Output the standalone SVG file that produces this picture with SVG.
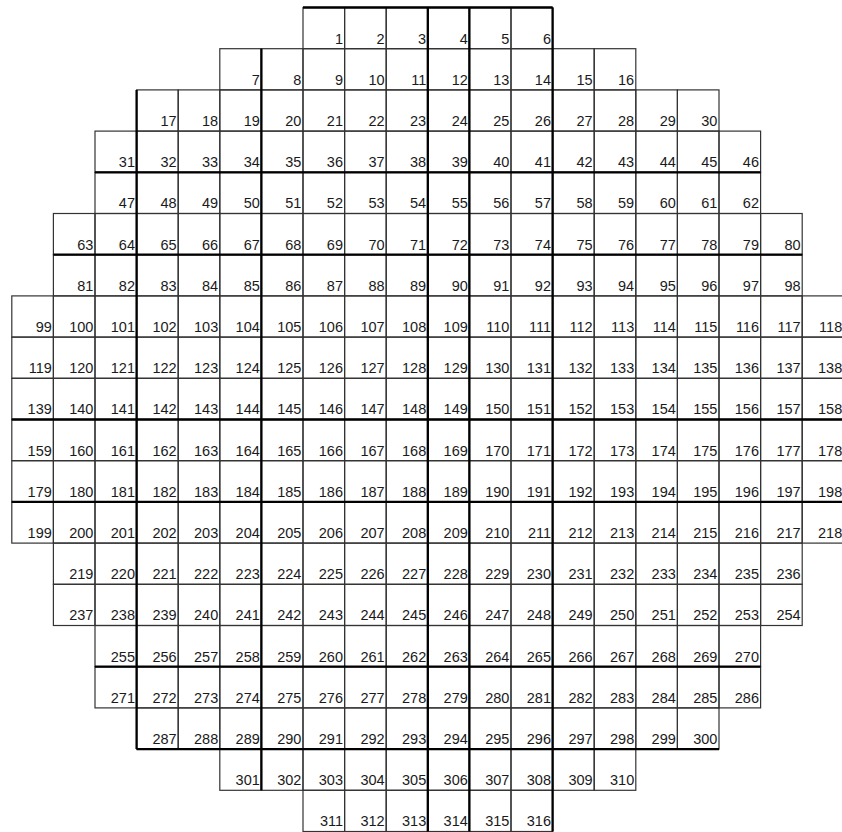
<svg xmlns="http://www.w3.org/2000/svg" width="842" height="832" viewBox="0 0 842 832">
<style>
rect{fill:none;stroke:#333;stroke-width:1.2}
text{font-family:"Liberation Sans",Arial,Helvetica,sans-serif;font-size:14.5px;fill:#1a1a1a;text-anchor:end}
.thick{stroke:#000;stroke-width:2.3;fill:none}
</style>
<rect x="0" y="0" width="842" height="832" style="fill:#fff;stroke:none"/>
<g id="cells">
<g id="n1" transform="translate(303,7.5)"><rect width="41.6" height="41.2"/><text x="40" y="36">1</text></g>
<g id="n2" transform="translate(344.6,7.5)"><rect width="41.6" height="41.2"/><text x="40" y="36">2</text></g>
<g id="n3" transform="translate(386.2,7.5)"><rect width="41.6" height="41.2"/><text x="40" y="36">3</text></g>
<g id="n4" transform="translate(427.8,7.5)"><rect width="41.6" height="41.2"/><text x="40" y="36">4</text></g>
<g id="n5" transform="translate(469.4,7.5)"><rect width="41.6" height="41.2"/><text x="40" y="36">5</text></g>
<g id="n6" transform="translate(511,7.5)"><rect width="41.6" height="41.2"/><text x="40" y="36">6</text></g>
<g id="n7" transform="translate(219.8,48.7)"><rect width="41.6" height="41.2"/><text x="40" y="36">7</text></g>
<g id="n8" transform="translate(261.4,48.7)"><rect width="41.6" height="41.2"/><text x="40" y="36">8</text></g>
<g id="n9" transform="translate(303,48.7)"><rect width="41.6" height="41.2"/><text x="40" y="36">9</text></g>
<g id="n10" transform="translate(344.6,48.7)"><rect width="41.6" height="41.2"/><text x="40" y="36">10</text></g>
<g id="n11" transform="translate(386.2,48.7)"><rect width="41.6" height="41.2"/><text x="40" y="36">11</text></g>
<g id="n12" transform="translate(427.8,48.7)"><rect width="41.6" height="41.2"/><text x="40" y="36">12</text></g>
<g id="n13" transform="translate(469.4,48.7)"><rect width="41.6" height="41.2"/><text x="40" y="36">13</text></g>
<g id="n14" transform="translate(511,48.7)"><rect width="41.6" height="41.2"/><text x="40" y="36">14</text></g>
<g id="n15" transform="translate(552.6,48.7)"><rect width="41.6" height="41.2"/><text x="40" y="36">15</text></g>
<g id="n16" transform="translate(594.2,48.7)"><rect width="41.6" height="41.2"/><text x="40" y="36">16</text></g>
<g id="n17" transform="translate(136.6,89.9)"><rect width="41.6" height="41.2"/><text x="40" y="36">17</text></g>
<g id="n18" transform="translate(178.2,89.9)"><rect width="41.6" height="41.2"/><text x="40" y="36">18</text></g>
<g id="n19" transform="translate(219.8,89.9)"><rect width="41.6" height="41.2"/><text x="40" y="36">19</text></g>
<g id="n20" transform="translate(261.4,89.9)"><rect width="41.6" height="41.2"/><text x="40" y="36">20</text></g>
<g id="n21" transform="translate(303,89.9)"><rect width="41.6" height="41.2"/><text x="40" y="36">21</text></g>
<g id="n22" transform="translate(344.6,89.9)"><rect width="41.6" height="41.2"/><text x="40" y="36">22</text></g>
<g id="n23" transform="translate(386.2,89.9)"><rect width="41.6" height="41.2"/><text x="40" y="36">23</text></g>
<g id="n24" transform="translate(427.8,89.9)"><rect width="41.6" height="41.2"/><text x="40" y="36">24</text></g>
<g id="n25" transform="translate(469.4,89.9)"><rect width="41.6" height="41.2"/><text x="40" y="36">25</text></g>
<g id="n26" transform="translate(511,89.9)"><rect width="41.6" height="41.2"/><text x="40" y="36">26</text></g>
<g id="n27" transform="translate(552.6,89.9)"><rect width="41.6" height="41.2"/><text x="40" y="36">27</text></g>
<g id="n28" transform="translate(594.2,89.9)"><rect width="41.6" height="41.2"/><text x="40" y="36">28</text></g>
<g id="n29" transform="translate(635.8,89.9)"><rect width="41.6" height="41.2"/><text x="40" y="36">29</text></g>
<g id="n30" transform="translate(677.4,89.9)"><rect width="41.6" height="41.2"/><text x="40" y="36">30</text></g>
<g id="n31" transform="translate(95,131.1)"><rect width="41.6" height="41.2"/><text x="40" y="36">31</text></g>
<g id="n32" transform="translate(136.6,131.1)"><rect width="41.6" height="41.2"/><text x="40" y="36">32</text></g>
<g id="n33" transform="translate(178.2,131.1)"><rect width="41.6" height="41.2"/><text x="40" y="36">33</text></g>
<g id="n34" transform="translate(219.8,131.1)"><rect width="41.6" height="41.2"/><text x="40" y="36">34</text></g>
<g id="n35" transform="translate(261.4,131.1)"><rect width="41.6" height="41.2"/><text x="40" y="36">35</text></g>
<g id="n36" transform="translate(303,131.1)"><rect width="41.6" height="41.2"/><text x="40" y="36">36</text></g>
<g id="n37" transform="translate(344.6,131.1)"><rect width="41.6" height="41.2"/><text x="40" y="36">37</text></g>
<g id="n38" transform="translate(386.2,131.1)"><rect width="41.6" height="41.2"/><text x="40" y="36">38</text></g>
<g id="n39" transform="translate(427.8,131.1)"><rect width="41.6" height="41.2"/><text x="40" y="36">39</text></g>
<g id="n40" transform="translate(469.4,131.1)"><rect width="41.6" height="41.2"/><text x="40" y="36">40</text></g>
<g id="n41" transform="translate(511,131.1)"><rect width="41.6" height="41.2"/><text x="40" y="36">41</text></g>
<g id="n42" transform="translate(552.6,131.1)"><rect width="41.6" height="41.2"/><text x="40" y="36">42</text></g>
<g id="n43" transform="translate(594.2,131.1)"><rect width="41.6" height="41.2"/><text x="40" y="36">43</text></g>
<g id="n44" transform="translate(635.8,131.1)"><rect width="41.6" height="41.2"/><text x="40" y="36">44</text></g>
<g id="n45" transform="translate(677.4,131.1)"><rect width="41.6" height="41.2"/><text x="40" y="36">45</text></g>
<g id="n46" transform="translate(719,131.1)"><rect width="41.6" height="41.2"/><text x="40" y="36">46</text></g>
<g id="n47" transform="translate(95,172.3)"><rect width="41.6" height="41.2"/><text x="40" y="36">47</text></g>
<g id="n48" transform="translate(136.6,172.3)"><rect width="41.6" height="41.2"/><text x="40" y="36">48</text></g>
<g id="n49" transform="translate(178.2,172.3)"><rect width="41.6" height="41.2"/><text x="40" y="36">49</text></g>
<g id="n50" transform="translate(219.8,172.3)"><rect width="41.6" height="41.2"/><text x="40" y="36">50</text></g>
<g id="n51" transform="translate(261.4,172.3)"><rect width="41.6" height="41.2"/><text x="40" y="36">51</text></g>
<g id="n52" transform="translate(303,172.3)"><rect width="41.6" height="41.2"/><text x="40" y="36">52</text></g>
<g id="n53" transform="translate(344.6,172.3)"><rect width="41.6" height="41.2"/><text x="40" y="36">53</text></g>
<g id="n54" transform="translate(386.2,172.3)"><rect width="41.6" height="41.2"/><text x="40" y="36">54</text></g>
<g id="n55" transform="translate(427.8,172.3)"><rect width="41.6" height="41.2"/><text x="40" y="36">55</text></g>
<g id="n56" transform="translate(469.4,172.3)"><rect width="41.6" height="41.2"/><text x="40" y="36">56</text></g>
<g id="n57" transform="translate(511,172.3)"><rect width="41.6" height="41.2"/><text x="40" y="36">57</text></g>
<g id="n58" transform="translate(552.6,172.3)"><rect width="41.6" height="41.2"/><text x="40" y="36">58</text></g>
<g id="n59" transform="translate(594.2,172.3)"><rect width="41.6" height="41.2"/><text x="40" y="36">59</text></g>
<g id="n60" transform="translate(635.8,172.3)"><rect width="41.6" height="41.2"/><text x="40" y="36">60</text></g>
<g id="n61" transform="translate(677.4,172.3)"><rect width="41.6" height="41.2"/><text x="40" y="36">61</text></g>
<g id="n62" transform="translate(719,172.3)"><rect width="41.6" height="41.2"/><text x="40" y="36">62</text></g>
<g id="n63" transform="translate(53.4,213.5)"><rect width="41.6" height="41.2"/><text x="40" y="36">63</text></g>
<g id="n64" transform="translate(95,213.5)"><rect width="41.6" height="41.2"/><text x="40" y="36">64</text></g>
<g id="n65" transform="translate(136.6,213.5)"><rect width="41.6" height="41.2"/><text x="40" y="36">65</text></g>
<g id="n66" transform="translate(178.2,213.5)"><rect width="41.6" height="41.2"/><text x="40" y="36">66</text></g>
<g id="n67" transform="translate(219.8,213.5)"><rect width="41.6" height="41.2"/><text x="40" y="36">67</text></g>
<g id="n68" transform="translate(261.4,213.5)"><rect width="41.6" height="41.2"/><text x="40" y="36">68</text></g>
<g id="n69" transform="translate(303,213.5)"><rect width="41.6" height="41.2"/><text x="40" y="36">69</text></g>
<g id="n70" transform="translate(344.6,213.5)"><rect width="41.6" height="41.2"/><text x="40" y="36">70</text></g>
<g id="n71" transform="translate(386.2,213.5)"><rect width="41.6" height="41.2"/><text x="40" y="36">71</text></g>
<g id="n72" transform="translate(427.8,213.5)"><rect width="41.6" height="41.2"/><text x="40" y="36">72</text></g>
<g id="n73" transform="translate(469.4,213.5)"><rect width="41.6" height="41.2"/><text x="40" y="36">73</text></g>
<g id="n74" transform="translate(511,213.5)"><rect width="41.6" height="41.2"/><text x="40" y="36">74</text></g>
<g id="n75" transform="translate(552.6,213.5)"><rect width="41.6" height="41.2"/><text x="40" y="36">75</text></g>
<g id="n76" transform="translate(594.2,213.5)"><rect width="41.6" height="41.2"/><text x="40" y="36">76</text></g>
<g id="n77" transform="translate(635.8,213.5)"><rect width="41.6" height="41.2"/><text x="40" y="36">77</text></g>
<g id="n78" transform="translate(677.4,213.5)"><rect width="41.6" height="41.2"/><text x="40" y="36">78</text></g>
<g id="n79" transform="translate(719,213.5)"><rect width="41.6" height="41.2"/><text x="40" y="36">79</text></g>
<g id="n80" transform="translate(760.6,213.5)"><rect width="41.6" height="41.2"/><text x="40" y="36">80</text></g>
<g id="n81" transform="translate(53.4,254.7)"><rect width="41.6" height="41.2"/><text x="40" y="36">81</text></g>
<g id="n82" transform="translate(95,254.7)"><rect width="41.6" height="41.2"/><text x="40" y="36">82</text></g>
<g id="n83" transform="translate(136.6,254.7)"><rect width="41.6" height="41.2"/><text x="40" y="36">83</text></g>
<g id="n84" transform="translate(178.2,254.7)"><rect width="41.6" height="41.2"/><text x="40" y="36">84</text></g>
<g id="n85" transform="translate(219.8,254.7)"><rect width="41.6" height="41.2"/><text x="40" y="36">85</text></g>
<g id="n86" transform="translate(261.4,254.7)"><rect width="41.6" height="41.2"/><text x="40" y="36">86</text></g>
<g id="n87" transform="translate(303,254.7)"><rect width="41.6" height="41.2"/><text x="40" y="36">87</text></g>
<g id="n88" transform="translate(344.6,254.7)"><rect width="41.6" height="41.2"/><text x="40" y="36">88</text></g>
<g id="n89" transform="translate(386.2,254.7)"><rect width="41.6" height="41.2"/><text x="40" y="36">89</text></g>
<g id="n90" transform="translate(427.8,254.7)"><rect width="41.6" height="41.2"/><text x="40" y="36">90</text></g>
<g id="n91" transform="translate(469.4,254.7)"><rect width="41.6" height="41.2"/><text x="40" y="36">91</text></g>
<g id="n92" transform="translate(511,254.7)"><rect width="41.6" height="41.2"/><text x="40" y="36">92</text></g>
<g id="n93" transform="translate(552.6,254.7)"><rect width="41.6" height="41.2"/><text x="40" y="36">93</text></g>
<g id="n94" transform="translate(594.2,254.7)"><rect width="41.6" height="41.2"/><text x="40" y="36">94</text></g>
<g id="n95" transform="translate(635.8,254.7)"><rect width="41.6" height="41.2"/><text x="40" y="36">95</text></g>
<g id="n96" transform="translate(677.4,254.7)"><rect width="41.6" height="41.2"/><text x="40" y="36">96</text></g>
<g id="n97" transform="translate(719,254.7)"><rect width="41.6" height="41.2"/><text x="40" y="36">97</text></g>
<g id="n98" transform="translate(760.6,254.7)"><rect width="41.6" height="41.2"/><text x="40" y="36">98</text></g>
<g id="n99" transform="translate(11.8,295.9)"><rect width="41.6" height="41.2"/><text x="40" y="36">99</text></g>
<g id="n100" transform="translate(53.4,295.9)"><rect width="41.6" height="41.2"/><text x="40" y="36">100</text></g>
<g id="n101" transform="translate(95,295.9)"><rect width="41.6" height="41.2"/><text x="40" y="36">101</text></g>
<g id="n102" transform="translate(136.6,295.9)"><rect width="41.6" height="41.2"/><text x="40" y="36">102</text></g>
<g id="n103" transform="translate(178.2,295.9)"><rect width="41.6" height="41.2"/><text x="40" y="36">103</text></g>
<g id="n104" transform="translate(219.8,295.9)"><rect width="41.6" height="41.2"/><text x="40" y="36">104</text></g>
<g id="n105" transform="translate(261.4,295.9)"><rect width="41.6" height="41.2"/><text x="40" y="36">105</text></g>
<g id="n106" transform="translate(303,295.9)"><rect width="41.6" height="41.2"/><text x="40" y="36">106</text></g>
<g id="n107" transform="translate(344.6,295.9)"><rect width="41.6" height="41.2"/><text x="40" y="36">107</text></g>
<g id="n108" transform="translate(386.2,295.9)"><rect width="41.6" height="41.2"/><text x="40" y="36">108</text></g>
<g id="n109" transform="translate(427.8,295.9)"><rect width="41.6" height="41.2"/><text x="40" y="36">109</text></g>
<g id="n110" transform="translate(469.4,295.9)"><rect width="41.6" height="41.2"/><text x="40" y="36">110</text></g>
<g id="n111" transform="translate(511,295.9)"><rect width="41.6" height="41.2"/><text x="40" y="36">111</text></g>
<g id="n112" transform="translate(552.6,295.9)"><rect width="41.6" height="41.2"/><text x="40" y="36">112</text></g>
<g id="n113" transform="translate(594.2,295.9)"><rect width="41.6" height="41.2"/><text x="40" y="36">113</text></g>
<g id="n114" transform="translate(635.8,295.9)"><rect width="41.6" height="41.2"/><text x="40" y="36">114</text></g>
<g id="n115" transform="translate(677.4,295.9)"><rect width="41.6" height="41.2"/><text x="40" y="36">115</text></g>
<g id="n116" transform="translate(719,295.9)"><rect width="41.6" height="41.2"/><text x="40" y="36">116</text></g>
<g id="n117" transform="translate(760.6,295.9)"><rect width="41.6" height="41.2"/><text x="40" y="36">117</text></g>
<g id="n118" transform="translate(802.2,295.9)"><rect width="41.6" height="41.2"/><text x="40" y="36">118</text></g>
<g id="n119" transform="translate(11.8,337.1)"><rect width="41.6" height="41.2"/><text x="40" y="36">119</text></g>
<g id="n120" transform="translate(53.4,337.1)"><rect width="41.6" height="41.2"/><text x="40" y="36">120</text></g>
<g id="n121" transform="translate(95,337.1)"><rect width="41.6" height="41.2"/><text x="40" y="36">121</text></g>
<g id="n122" transform="translate(136.6,337.1)"><rect width="41.6" height="41.2"/><text x="40" y="36">122</text></g>
<g id="n123" transform="translate(178.2,337.1)"><rect width="41.6" height="41.2"/><text x="40" y="36">123</text></g>
<g id="n124" transform="translate(219.8,337.1)"><rect width="41.6" height="41.2"/><text x="40" y="36">124</text></g>
<g id="n125" transform="translate(261.4,337.1)"><rect width="41.6" height="41.2"/><text x="40" y="36">125</text></g>
<g id="n126" transform="translate(303,337.1)"><rect width="41.6" height="41.2"/><text x="40" y="36">126</text></g>
<g id="n127" transform="translate(344.6,337.1)"><rect width="41.6" height="41.2"/><text x="40" y="36">127</text></g>
<g id="n128" transform="translate(386.2,337.1)"><rect width="41.6" height="41.2"/><text x="40" y="36">128</text></g>
<g id="n129" transform="translate(427.8,337.1)"><rect width="41.6" height="41.2"/><text x="40" y="36">129</text></g>
<g id="n130" transform="translate(469.4,337.1)"><rect width="41.6" height="41.2"/><text x="40" y="36">130</text></g>
<g id="n131" transform="translate(511,337.1)"><rect width="41.6" height="41.2"/><text x="40" y="36">131</text></g>
<g id="n132" transform="translate(552.6,337.1)"><rect width="41.6" height="41.2"/><text x="40" y="36">132</text></g>
<g id="n133" transform="translate(594.2,337.1)"><rect width="41.6" height="41.2"/><text x="40" y="36">133</text></g>
<g id="n134" transform="translate(635.8,337.1)"><rect width="41.6" height="41.2"/><text x="40" y="36">134</text></g>
<g id="n135" transform="translate(677.4,337.1)"><rect width="41.6" height="41.2"/><text x="40" y="36">135</text></g>
<g id="n136" transform="translate(719,337.1)"><rect width="41.6" height="41.2"/><text x="40" y="36">136</text></g>
<g id="n137" transform="translate(760.6,337.1)"><rect width="41.6" height="41.2"/><text x="40" y="36">137</text></g>
<g id="n138" transform="translate(802.2,337.1)"><rect width="41.6" height="41.2"/><text x="40" y="36">138</text></g>
<g id="n139" transform="translate(11.8,378.3)"><rect width="41.6" height="41.2"/><text x="40" y="36">139</text></g>
<g id="n140" transform="translate(53.4,378.3)"><rect width="41.6" height="41.2"/><text x="40" y="36">140</text></g>
<g id="n141" transform="translate(95,378.3)"><rect width="41.6" height="41.2"/><text x="40" y="36">141</text></g>
<g id="n142" transform="translate(136.6,378.3)"><rect width="41.6" height="41.2"/><text x="40" y="36">142</text></g>
<g id="n143" transform="translate(178.2,378.3)"><rect width="41.6" height="41.2"/><text x="40" y="36">143</text></g>
<g id="n144" transform="translate(219.8,378.3)"><rect width="41.6" height="41.2"/><text x="40" y="36">144</text></g>
<g id="n145" transform="translate(261.4,378.3)"><rect width="41.6" height="41.2"/><text x="40" y="36">145</text></g>
<g id="n146" transform="translate(303,378.3)"><rect width="41.6" height="41.2"/><text x="40" y="36">146</text></g>
<g id="n147" transform="translate(344.6,378.3)"><rect width="41.6" height="41.2"/><text x="40" y="36">147</text></g>
<g id="n148" transform="translate(386.2,378.3)"><rect width="41.6" height="41.2"/><text x="40" y="36">148</text></g>
<g id="n149" transform="translate(427.8,378.3)"><rect width="41.6" height="41.2"/><text x="40" y="36">149</text></g>
<g id="n150" transform="translate(469.4,378.3)"><rect width="41.6" height="41.2"/><text x="40" y="36">150</text></g>
<g id="n151" transform="translate(511,378.3)"><rect width="41.6" height="41.2"/><text x="40" y="36">151</text></g>
<g id="n152" transform="translate(552.6,378.3)"><rect width="41.6" height="41.2"/><text x="40" y="36">152</text></g>
<g id="n153" transform="translate(594.2,378.3)"><rect width="41.6" height="41.2"/><text x="40" y="36">153</text></g>
<g id="n154" transform="translate(635.8,378.3)"><rect width="41.6" height="41.2"/><text x="40" y="36">154</text></g>
<g id="n155" transform="translate(677.4,378.3)"><rect width="41.6" height="41.2"/><text x="40" y="36">155</text></g>
<g id="n156" transform="translate(719,378.3)"><rect width="41.6" height="41.2"/><text x="40" y="36">156</text></g>
<g id="n157" transform="translate(760.6,378.3)"><rect width="41.6" height="41.2"/><text x="40" y="36">157</text></g>
<g id="n158" transform="translate(802.2,378.3)"><rect width="41.6" height="41.2"/><text x="40" y="36">158</text></g>
<g id="n159" transform="translate(11.8,419.5)"><rect width="41.6" height="41.2"/><text x="40" y="36">159</text></g>
<g id="n160" transform="translate(53.4,419.5)"><rect width="41.6" height="41.2"/><text x="40" y="36">160</text></g>
<g id="n161" transform="translate(95,419.5)"><rect width="41.6" height="41.2"/><text x="40" y="36">161</text></g>
<g id="n162" transform="translate(136.6,419.5)"><rect width="41.6" height="41.2"/><text x="40" y="36">162</text></g>
<g id="n163" transform="translate(178.2,419.5)"><rect width="41.6" height="41.2"/><text x="40" y="36">163</text></g>
<g id="n164" transform="translate(219.8,419.5)"><rect width="41.6" height="41.2"/><text x="40" y="36">164</text></g>
<g id="n165" transform="translate(261.4,419.5)"><rect width="41.6" height="41.2"/><text x="40" y="36">165</text></g>
<g id="n166" transform="translate(303,419.5)"><rect width="41.6" height="41.2"/><text x="40" y="36">166</text></g>
<g id="n167" transform="translate(344.6,419.5)"><rect width="41.6" height="41.2"/><text x="40" y="36">167</text></g>
<g id="n168" transform="translate(386.2,419.5)"><rect width="41.6" height="41.2"/><text x="40" y="36">168</text></g>
<g id="n169" transform="translate(427.8,419.5)"><rect width="41.6" height="41.2"/><text x="40" y="36">169</text></g>
<g id="n170" transform="translate(469.4,419.5)"><rect width="41.6" height="41.2"/><text x="40" y="36">170</text></g>
<g id="n171" transform="translate(511,419.5)"><rect width="41.6" height="41.2"/><text x="40" y="36">171</text></g>
<g id="n172" transform="translate(552.6,419.5)"><rect width="41.6" height="41.2"/><text x="40" y="36">172</text></g>
<g id="n173" transform="translate(594.2,419.5)"><rect width="41.6" height="41.2"/><text x="40" y="36">173</text></g>
<g id="n174" transform="translate(635.8,419.5)"><rect width="41.6" height="41.2"/><text x="40" y="36">174</text></g>
<g id="n175" transform="translate(677.4,419.5)"><rect width="41.6" height="41.2"/><text x="40" y="36">175</text></g>
<g id="n176" transform="translate(719,419.5)"><rect width="41.6" height="41.2"/><text x="40" y="36">176</text></g>
<g id="n177" transform="translate(760.6,419.5)"><rect width="41.6" height="41.2"/><text x="40" y="36">177</text></g>
<g id="n178" transform="translate(802.2,419.5)"><rect width="41.6" height="41.2"/><text x="40" y="36">178</text></g>
<g id="n179" transform="translate(11.8,460.7)"><rect width="41.6" height="41.2"/><text x="40" y="36">179</text></g>
<g id="n180" transform="translate(53.4,460.7)"><rect width="41.6" height="41.2"/><text x="40" y="36">180</text></g>
<g id="n181" transform="translate(95,460.7)"><rect width="41.6" height="41.2"/><text x="40" y="36">181</text></g>
<g id="n182" transform="translate(136.6,460.7)"><rect width="41.6" height="41.2"/><text x="40" y="36">182</text></g>
<g id="n183" transform="translate(178.2,460.7)"><rect width="41.6" height="41.2"/><text x="40" y="36">183</text></g>
<g id="n184" transform="translate(219.8,460.7)"><rect width="41.6" height="41.2"/><text x="40" y="36">184</text></g>
<g id="n185" transform="translate(261.4,460.7)"><rect width="41.6" height="41.2"/><text x="40" y="36">185</text></g>
<g id="n186" transform="translate(303,460.7)"><rect width="41.6" height="41.2"/><text x="40" y="36">186</text></g>
<g id="n187" transform="translate(344.6,460.7)"><rect width="41.6" height="41.2"/><text x="40" y="36">187</text></g>
<g id="n188" transform="translate(386.2,460.7)"><rect width="41.6" height="41.2"/><text x="40" y="36">188</text></g>
<g id="n189" transform="translate(427.8,460.7)"><rect width="41.6" height="41.2"/><text x="40" y="36">189</text></g>
<g id="n190" transform="translate(469.4,460.7)"><rect width="41.6" height="41.2"/><text x="40" y="36">190</text></g>
<g id="n191" transform="translate(511,460.7)"><rect width="41.6" height="41.2"/><text x="40" y="36">191</text></g>
<g id="n192" transform="translate(552.6,460.7)"><rect width="41.6" height="41.2"/><text x="40" y="36">192</text></g>
<g id="n193" transform="translate(594.2,460.7)"><rect width="41.6" height="41.2"/><text x="40" y="36">193</text></g>
<g id="n194" transform="translate(635.8,460.7)"><rect width="41.6" height="41.2"/><text x="40" y="36">194</text></g>
<g id="n195" transform="translate(677.4,460.7)"><rect width="41.6" height="41.2"/><text x="40" y="36">195</text></g>
<g id="n196" transform="translate(719,460.7)"><rect width="41.6" height="41.2"/><text x="40" y="36">196</text></g>
<g id="n197" transform="translate(760.6,460.7)"><rect width="41.6" height="41.2"/><text x="40" y="36">197</text></g>
<g id="n198" transform="translate(802.2,460.7)"><rect width="41.6" height="41.2"/><text x="40" y="36">198</text></g>
<g id="n199" transform="translate(11.8,501.9)"><rect width="41.6" height="41.2"/><text x="40" y="36">199</text></g>
<g id="n200" transform="translate(53.4,501.9)"><rect width="41.6" height="41.2"/><text x="40" y="36">200</text></g>
<g id="n201" transform="translate(95,501.9)"><rect width="41.6" height="41.2"/><text x="40" y="36">201</text></g>
<g id="n202" transform="translate(136.6,501.9)"><rect width="41.6" height="41.2"/><text x="40" y="36">202</text></g>
<g id="n203" transform="translate(178.2,501.9)"><rect width="41.6" height="41.2"/><text x="40" y="36">203</text></g>
<g id="n204" transform="translate(219.8,501.9)"><rect width="41.6" height="41.2"/><text x="40" y="36">204</text></g>
<g id="n205" transform="translate(261.4,501.9)"><rect width="41.6" height="41.2"/><text x="40" y="36">205</text></g>
<g id="n206" transform="translate(303,501.9)"><rect width="41.6" height="41.2"/><text x="40" y="36">206</text></g>
<g id="n207" transform="translate(344.6,501.9)"><rect width="41.6" height="41.2"/><text x="40" y="36">207</text></g>
<g id="n208" transform="translate(386.2,501.9)"><rect width="41.6" height="41.2"/><text x="40" y="36">208</text></g>
<g id="n209" transform="translate(427.8,501.9)"><rect width="41.6" height="41.2"/><text x="40" y="36">209</text></g>
<g id="n210" transform="translate(469.4,501.9)"><rect width="41.6" height="41.2"/><text x="40" y="36">210</text></g>
<g id="n211" transform="translate(511,501.9)"><rect width="41.6" height="41.2"/><text x="40" y="36">211</text></g>
<g id="n212" transform="translate(552.6,501.9)"><rect width="41.6" height="41.2"/><text x="40" y="36">212</text></g>
<g id="n213" transform="translate(594.2,501.9)"><rect width="41.6" height="41.2"/><text x="40" y="36">213</text></g>
<g id="n214" transform="translate(635.8,501.9)"><rect width="41.6" height="41.2"/><text x="40" y="36">214</text></g>
<g id="n215" transform="translate(677.4,501.9)"><rect width="41.6" height="41.2"/><text x="40" y="36">215</text></g>
<g id="n216" transform="translate(719,501.9)"><rect width="41.6" height="41.2"/><text x="40" y="36">216</text></g>
<g id="n217" transform="translate(760.6,501.9)"><rect width="41.6" height="41.2"/><text x="40" y="36">217</text></g>
<g id="n218" transform="translate(802.2,501.9)"><rect width="41.6" height="41.2"/><text x="40" y="36">218</text></g>
<g id="n219" transform="translate(53.4,543.1)"><rect width="41.6" height="41.2"/><text x="40" y="36">219</text></g>
<g id="n220" transform="translate(95,543.1)"><rect width="41.6" height="41.2"/><text x="40" y="36">220</text></g>
<g id="n221" transform="translate(136.6,543.1)"><rect width="41.6" height="41.2"/><text x="40" y="36">221</text></g>
<g id="n222" transform="translate(178.2,543.1)"><rect width="41.6" height="41.2"/><text x="40" y="36">222</text></g>
<g id="n223" transform="translate(219.8,543.1)"><rect width="41.6" height="41.2"/><text x="40" y="36">223</text></g>
<g id="n224" transform="translate(261.4,543.1)"><rect width="41.6" height="41.2"/><text x="40" y="36">224</text></g>
<g id="n225" transform="translate(303,543.1)"><rect width="41.6" height="41.2"/><text x="40" y="36">225</text></g>
<g id="n226" transform="translate(344.6,543.1)"><rect width="41.6" height="41.2"/><text x="40" y="36">226</text></g>
<g id="n227" transform="translate(386.2,543.1)"><rect width="41.6" height="41.2"/><text x="40" y="36">227</text></g>
<g id="n228" transform="translate(427.8,543.1)"><rect width="41.6" height="41.2"/><text x="40" y="36">228</text></g>
<g id="n229" transform="translate(469.4,543.1)"><rect width="41.6" height="41.2"/><text x="40" y="36">229</text></g>
<g id="n230" transform="translate(511,543.1)"><rect width="41.6" height="41.2"/><text x="40" y="36">230</text></g>
<g id="n231" transform="translate(552.6,543.1)"><rect width="41.6" height="41.2"/><text x="40" y="36">231</text></g>
<g id="n232" transform="translate(594.2,543.1)"><rect width="41.6" height="41.2"/><text x="40" y="36">232</text></g>
<g id="n233" transform="translate(635.8,543.1)"><rect width="41.6" height="41.2"/><text x="40" y="36">233</text></g>
<g id="n234" transform="translate(677.4,543.1)"><rect width="41.6" height="41.2"/><text x="40" y="36">234</text></g>
<g id="n235" transform="translate(719,543.1)"><rect width="41.6" height="41.2"/><text x="40" y="36">235</text></g>
<g id="n236" transform="translate(760.6,543.1)"><rect width="41.6" height="41.2"/><text x="40" y="36">236</text></g>
<g id="n237" transform="translate(53.4,584.3)"><rect width="41.6" height="41.2"/><text x="40" y="36">237</text></g>
<g id="n238" transform="translate(95,584.3)"><rect width="41.6" height="41.2"/><text x="40" y="36">238</text></g>
<g id="n239" transform="translate(136.6,584.3)"><rect width="41.6" height="41.2"/><text x="40" y="36">239</text></g>
<g id="n240" transform="translate(178.2,584.3)"><rect width="41.6" height="41.2"/><text x="40" y="36">240</text></g>
<g id="n241" transform="translate(219.8,584.3)"><rect width="41.6" height="41.2"/><text x="40" y="36">241</text></g>
<g id="n242" transform="translate(261.4,584.3)"><rect width="41.6" height="41.2"/><text x="40" y="36">242</text></g>
<g id="n243" transform="translate(303,584.3)"><rect width="41.6" height="41.2"/><text x="40" y="36">243</text></g>
<g id="n244" transform="translate(344.6,584.3)"><rect width="41.6" height="41.2"/><text x="40" y="36">244</text></g>
<g id="n245" transform="translate(386.2,584.3)"><rect width="41.6" height="41.2"/><text x="40" y="36">245</text></g>
<g id="n246" transform="translate(427.8,584.3)"><rect width="41.6" height="41.2"/><text x="40" y="36">246</text></g>
<g id="n247" transform="translate(469.4,584.3)"><rect width="41.6" height="41.2"/><text x="40" y="36">247</text></g>
<g id="n248" transform="translate(511,584.3)"><rect width="41.6" height="41.2"/><text x="40" y="36">248</text></g>
<g id="n249" transform="translate(552.6,584.3)"><rect width="41.6" height="41.2"/><text x="40" y="36">249</text></g>
<g id="n250" transform="translate(594.2,584.3)"><rect width="41.6" height="41.2"/><text x="40" y="36">250</text></g>
<g id="n251" transform="translate(635.8,584.3)"><rect width="41.6" height="41.2"/><text x="40" y="36">251</text></g>
<g id="n252" transform="translate(677.4,584.3)"><rect width="41.6" height="41.2"/><text x="40" y="36">252</text></g>
<g id="n253" transform="translate(719,584.3)"><rect width="41.6" height="41.2"/><text x="40" y="36">253</text></g>
<g id="n254" transform="translate(760.6,584.3)"><rect width="41.6" height="41.2"/><text x="40" y="36">254</text></g>
<g id="n255" transform="translate(95,625.5)"><rect width="41.6" height="41.2"/><text x="40" y="36">255</text></g>
<g id="n256" transform="translate(136.6,625.5)"><rect width="41.6" height="41.2"/><text x="40" y="36">256</text></g>
<g id="n257" transform="translate(178.2,625.5)"><rect width="41.6" height="41.2"/><text x="40" y="36">257</text></g>
<g id="n258" transform="translate(219.8,625.5)"><rect width="41.6" height="41.2"/><text x="40" y="36">258</text></g>
<g id="n259" transform="translate(261.4,625.5)"><rect width="41.6" height="41.2"/><text x="40" y="36">259</text></g>
<g id="n260" transform="translate(303,625.5)"><rect width="41.6" height="41.2"/><text x="40" y="36">260</text></g>
<g id="n261" transform="translate(344.6,625.5)"><rect width="41.6" height="41.2"/><text x="40" y="36">261</text></g>
<g id="n262" transform="translate(386.2,625.5)"><rect width="41.6" height="41.2"/><text x="40" y="36">262</text></g>
<g id="n263" transform="translate(427.8,625.5)"><rect width="41.6" height="41.2"/><text x="40" y="36">263</text></g>
<g id="n264" transform="translate(469.4,625.5)"><rect width="41.6" height="41.2"/><text x="40" y="36">264</text></g>
<g id="n265" transform="translate(511,625.5)"><rect width="41.6" height="41.2"/><text x="40" y="36">265</text></g>
<g id="n266" transform="translate(552.6,625.5)"><rect width="41.6" height="41.2"/><text x="40" y="36">266</text></g>
<g id="n267" transform="translate(594.2,625.5)"><rect width="41.6" height="41.2"/><text x="40" y="36">267</text></g>
<g id="n268" transform="translate(635.8,625.5)"><rect width="41.6" height="41.2"/><text x="40" y="36">268</text></g>
<g id="n269" transform="translate(677.4,625.5)"><rect width="41.6" height="41.2"/><text x="40" y="36">269</text></g>
<g id="n270" transform="translate(719,625.5)"><rect width="41.6" height="41.2"/><text x="40" y="36">270</text></g>
<g id="n271" transform="translate(95,666.7)"><rect width="41.6" height="41.2"/><text x="40" y="36">271</text></g>
<g id="n272" transform="translate(136.6,666.7)"><rect width="41.6" height="41.2"/><text x="40" y="36">272</text></g>
<g id="n273" transform="translate(178.2,666.7)"><rect width="41.6" height="41.2"/><text x="40" y="36">273</text></g>
<g id="n274" transform="translate(219.8,666.7)"><rect width="41.6" height="41.2"/><text x="40" y="36">274</text></g>
<g id="n275" transform="translate(261.4,666.7)"><rect width="41.6" height="41.2"/><text x="40" y="36">275</text></g>
<g id="n276" transform="translate(303,666.7)"><rect width="41.6" height="41.2"/><text x="40" y="36">276</text></g>
<g id="n277" transform="translate(344.6,666.7)"><rect width="41.6" height="41.2"/><text x="40" y="36">277</text></g>
<g id="n278" transform="translate(386.2,666.7)"><rect width="41.6" height="41.2"/><text x="40" y="36">278</text></g>
<g id="n279" transform="translate(427.8,666.7)"><rect width="41.6" height="41.2"/><text x="40" y="36">279</text></g>
<g id="n280" transform="translate(469.4,666.7)"><rect width="41.6" height="41.2"/><text x="40" y="36">280</text></g>
<g id="n281" transform="translate(511,666.7)"><rect width="41.6" height="41.2"/><text x="40" y="36">281</text></g>
<g id="n282" transform="translate(552.6,666.7)"><rect width="41.6" height="41.2"/><text x="40" y="36">282</text></g>
<g id="n283" transform="translate(594.2,666.7)"><rect width="41.6" height="41.2"/><text x="40" y="36">283</text></g>
<g id="n284" transform="translate(635.8,666.7)"><rect width="41.6" height="41.2"/><text x="40" y="36">284</text></g>
<g id="n285" transform="translate(677.4,666.7)"><rect width="41.6" height="41.2"/><text x="40" y="36">285</text></g>
<g id="n286" transform="translate(719,666.7)"><rect width="41.6" height="41.2"/><text x="40" y="36">286</text></g>
<g id="n287" transform="translate(136.6,707.9)"><rect width="41.6" height="41.2"/><text x="40" y="36">287</text></g>
<g id="n288" transform="translate(178.2,707.9)"><rect width="41.6" height="41.2"/><text x="40" y="36">288</text></g>
<g id="n289" transform="translate(219.8,707.9)"><rect width="41.6" height="41.2"/><text x="40" y="36">289</text></g>
<g id="n290" transform="translate(261.4,707.9)"><rect width="41.6" height="41.2"/><text x="40" y="36">290</text></g>
<g id="n291" transform="translate(303,707.9)"><rect width="41.6" height="41.2"/><text x="40" y="36">291</text></g>
<g id="n292" transform="translate(344.6,707.9)"><rect width="41.6" height="41.2"/><text x="40" y="36">292</text></g>
<g id="n293" transform="translate(386.2,707.9)"><rect width="41.6" height="41.2"/><text x="40" y="36">293</text></g>
<g id="n294" transform="translate(427.8,707.9)"><rect width="41.6" height="41.2"/><text x="40" y="36">294</text></g>
<g id="n295" transform="translate(469.4,707.9)"><rect width="41.6" height="41.2"/><text x="40" y="36">295</text></g>
<g id="n296" transform="translate(511,707.9)"><rect width="41.6" height="41.2"/><text x="40" y="36">296</text></g>
<g id="n297" transform="translate(552.6,707.9)"><rect width="41.6" height="41.2"/><text x="40" y="36">297</text></g>
<g id="n298" transform="translate(594.2,707.9)"><rect width="41.6" height="41.2"/><text x="40" y="36">298</text></g>
<g id="n299" transform="translate(635.8,707.9)"><rect width="41.6" height="41.2"/><text x="40" y="36">299</text></g>
<g id="n300" transform="translate(677.4,707.9)"><rect width="41.6" height="41.2"/><text x="40" y="36">300</text></g>
<g id="n301" transform="translate(219.8,749.1)"><rect width="41.6" height="41.2"/><text x="40" y="36">301</text></g>
<g id="n302" transform="translate(261.4,749.1)"><rect width="41.6" height="41.2"/><text x="40" y="36">302</text></g>
<g id="n303" transform="translate(303,749.1)"><rect width="41.6" height="41.2"/><text x="40" y="36">303</text></g>
<g id="n304" transform="translate(344.6,749.1)"><rect width="41.6" height="41.2"/><text x="40" y="36">304</text></g>
<g id="n305" transform="translate(386.2,749.1)"><rect width="41.6" height="41.2"/><text x="40" y="36">305</text></g>
<g id="n306" transform="translate(427.8,749.1)"><rect width="41.6" height="41.2"/><text x="40" y="36">306</text></g>
<g id="n307" transform="translate(469.4,749.1)"><rect width="41.6" height="41.2"/><text x="40" y="36">307</text></g>
<g id="n308" transform="translate(511,749.1)"><rect width="41.6" height="41.2"/><text x="40" y="36">308</text></g>
<g id="n309" transform="translate(552.6,749.1)"><rect width="41.6" height="41.2"/><text x="40" y="36">309</text></g>
<g id="n310" transform="translate(594.2,749.1)"><rect width="41.6" height="41.2"/><text x="40" y="36">310</text></g>
<g id="n311" transform="translate(303,790.3)"><rect width="41.6" height="41.2"/><text x="40" y="36">311</text></g>
<g id="n312" transform="translate(344.6,790.3)"><rect width="41.6" height="41.2"/><text x="40" y="36">312</text></g>
<g id="n313" transform="translate(386.2,790.3)"><rect width="41.6" height="41.2"/><text x="40" y="36">313</text></g>
<g id="n314" transform="translate(427.8,790.3)"><rect width="41.6" height="41.2"/><text x="40" y="36">314</text></g>
<g id="n315" transform="translate(469.4,790.3)"><rect width="41.6" height="41.2"/><text x="40" y="36">315</text></g>
<g id="n316" transform="translate(511,790.3)"><rect width="41.6" height="41.2"/><text x="40" y="36">316</text></g>
</g>
<g id="field-lines" class="thick">
<path d="M303 7.5H552.6"/>
<path d="M95 172.3H760.6"/>
<path d="M53.4 254.7H802.2"/>
<path d="M11.8 419.5H843.8"/>
<path d="M11.8 501.9H843.8"/>
<path d="M95 666.7H760.6"/>
<path d="M136.6 749.1H719"/>
<path d="M136.6 89.9V749.1"/>
<path d="M261.4 48.7V790.3"/>
<path d="M427.8 7.5V831.5"/>
<path d="M469.4 7.5V831.5"/>
<path d="M552.6 7.5V831.5"/>
</g>
</svg>
